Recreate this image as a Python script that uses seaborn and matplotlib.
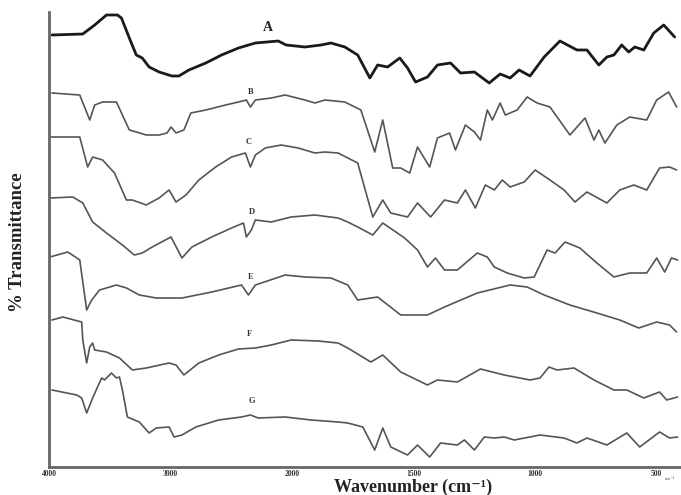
import numpy as np
import pandas as pd
import matplotlib
matplotlib.use("Agg")
import matplotlib.pyplot as plt
import matplotlib.ticker as mticker
import seaborn as sns

# ========================
# DATA (stacked % transmittance, arbitrary units)
# ========================
samples = ["A", "B", "C", "D", "E", "F", "G"]

wn_A = [3976, 3722, 3624, 3527, 3437, 3404, 3339, 3282, 3233, 3176, 3094, 2988, 2931, 2849, 2710,
        2580, 2441, 2302, 2114, 2049, 1947, 1881, 1840, 1783, 1730, 1680, 1648, 1607, 1557, 1525,
        1492, 1443, 1402, 1348, 1307, 1250, 1189, 1144, 1103, 1066, 1021, 963, 898, 828, 787, 738,
        705, 676, 644, 615, 590, 553, 512, 471, 426]
t_A = [435, 436, 445, 455, 455, 452, 432, 415, 412, 403, 398, 394, 394, 400, 407,
       415, 422, 427, 429, 425, 423, 425, 427, 423, 415, 392, 405, 403, 412, 402,
       388, 393, 405, 407, 397, 398, 387, 396, 392, 400, 394, 413, 429, 420, 420, 405,
       413, 415, 425, 418, 423, 420, 437, 445, 433]

wn_B = [3976, 3747, 3665, 3624, 3559, 3445, 3396, 3339, 3282, 3200, 3094, 3029, 2996, 2955, 2890,
        2833, 2710, 2547, 2441, 2376, 2343, 2302, 2171, 2057, 1947, 1906, 1865, 1783, 1717, 1660,
        1627, 1586, 1553, 1516, 1484, 1434, 1402, 1352, 1328, 1287, 1250, 1225, 1197, 1176, 1144,
        1123, 1074, 1033, 992, 939, 857, 795, 758, 738, 713, 664, 611, 541, 500, 451, 418]
t_B = [377, 375, 350, 365, 368, 368, 355, 340, 338, 335, 335, 337, 343, 337, 340,
       357, 360, 365, 368, 370, 363, 370, 372, 375, 370, 367, 370, 368, 360, 318,
       350, 302, 302, 297, 323, 303, 332, 337, 320, 345, 338, 330, 360, 350, 367,
       355, 360, 373, 367, 363, 335, 352, 330, 340, 327, 345, 353, 350, 370, 378, 363]

wn_C = [3992, 3747, 3682, 3641, 3559, 3461, 3363, 3314, 3200, 3094, 3012, 2955, 2873, 2767, 2629,
        2498, 2384, 2343, 2302, 2220, 2090, 1975, 1906, 1865, 1811, 1730, 1668, 1627, 1594, 1525,
        1484, 1430, 1373, 1320, 1287, 1246, 1205, 1168, 1135, 1103, 1045, 1000, 939, 881, 836,
        787, 705, 652, 594, 541, 488, 447, 418]
t_C = [333, 333, 303, 313, 310, 297, 270, 270, 265, 272, 280, 268, 275, 290, 303,
       313, 317, 303, 315, 322, 325, 322, 317, 318, 317, 307, 253, 270, 257, 253,
       267, 253, 270, 267, 280, 262, 285, 280, 290, 283, 288, 300, 290, 280, 268,
       278, 267, 280, 285, 280, 302, 303, 300]

wn_D = [3992, 3804, 3722, 3641, 3527, 3396, 3298, 3233, 3151, 2996, 2906, 2824, 2661, 2498, 2400,
        2376, 2335, 2302, 2171, 2008, 1906, 1811, 1771, 1730, 1668, 1627, 1537, 1484, 1443, 1410,
        1373, 1320, 1238, 1197, 1168, 1115, 1045, 1004, 951, 918, 877, 816, 746, 676, 611, 541,
        500, 467, 439, 414]
t_D = [272, 273, 267, 248, 237, 225, 215, 217, 223, 233, 212, 223, 233, 242, 247,
       233, 240, 250, 248, 253, 255, 252, 248, 243, 235, 247, 232, 220, 203, 212,
       200, 200, 217, 213, 203, 197, 192, 193, 220, 217, 228, 222, 207, 193, 197, 197,
       212, 198, 212, 210]

wn_E = [3992, 3845, 3747, 3690, 3649, 3584, 3445, 3363, 3257, 3118, 2906, 2661, 2416, 2359, 2302,
        2057, 1947, 1840, 1771, 1730, 1648, 1553, 1443, 1373, 1238, 1103, 1033, 963, 857, 746,
        652, 574, 500, 447, 418]
t_E = [213, 218, 210, 160, 170, 180, 185, 182, 175, 172, 172, 178, 185, 175, 185,
       195, 193, 192, 185, 170, 173, 155, 155, 163, 177, 185, 183, 175, 165, 157,
       150, 142, 148, 145, 138]

wn_F = [3976, 3886, 3731, 3722, 3690, 3665, 3641, 3624, 3527, 3420, 3314, 3200, 3012, 2955, 2890,
        2767, 2604, 2441, 2302, 2171, 2008, 1893, 1811, 1771, 1676, 1627, 1553, 1443, 1402, 1320,
        1225, 1127, 1021, 980, 943, 910, 840, 758, 676, 623, 553, 488, 459, 414]
t_F = [150, 153, 148, 130, 107, 123, 127, 120, 118, 112, 100, 102, 107, 105, 95,
       107, 115, 121, 122, 125, 130, 129, 127, 122, 108, 115, 98, 85, 90, 88,
       101, 95, 90, 92, 103, 100, 102, 90, 80, 80, 72, 78, 70, 73]

wn_G = [3976, 3771, 3731, 3690, 3641, 3567, 3543, 3486, 3445, 3420, 3396, 3355, 3257, 3176, 3118,
        3012, 2971, 2906, 2792, 2604, 2416, 2343, 2278, 2057, 1922, 1811, 1771, 1709, 1660, 1627,
        1594, 1525, 1484, 1434, 1389, 1320, 1291, 1250, 1209, 1168, 1127, 1086, 980, 881, 828,
        787, 705, 623, 570, 488, 447, 414]
t_G = [80, 75, 72, 57, 72, 92, 90, 97, 92, 93, 80, 53, 48, 37, 42,
       43, 33, 35, 43, 50, 53, 55, 52, 53, 50, 48, 47, 43, 20, 42,
       23, 15, 25, 13, 27, 25, 30, 20, 33, 32, 33, 30, 35, 32, 27,
       32, 25, 37, 23, 38, 32, 33]

major_ticks = [4000, 3000, 2000, 1500, 1000, 500]
major_labels = ["4000", "3000", "2000", "1500", "1000", "500"]

series = {"A": (wn_A, t_A), "B": (wn_B, t_B), "C": (wn_C, t_C), "D": (wn_D, t_D),
          "E": (wn_E, t_E), "F": (wn_F, t_F), "G": (wn_G, t_G)}

df = pd.concat([pd.DataFrame({"sample": k, "wavenumber": v[0], "T": v[1]})
                for k, v in series.items()], ignore_index=True)

# ========================
# PLOT
# ========================
sns.set_style("white")
plt.rcParams["font.family"] = ["Liberation Serif", "DejaVu Serif"]


# FTIR style axis: 4000-2000 compressed by half
def fwd(x):
    x = np.asarray(x, dtype=float)
    return np.where(x > 2000, 2000 + (x - 2000) / 2, x)


def inv(u):
    u = np.asarray(u, dtype=float)
    return np.where(u > 2000, 2000 + (u - 2000) * 2, u)


fig = plt.figure(figsize=(6.81, 4.95), dpi=100)
ax = fig.add_axes([49 / 681, 28 / 495, 632 / 681, 455 / 495])
ax.set_xscale("function", functions=(fwd, inv))

for s in samples:
    sub = df[df["sample"] == s]
    sns.lineplot(data=sub, x="wavenumber", y="T", ax=ax, sort=False, estimator=None,
                 color="#1a1a1a" if s == "A" else "#555555",
                 linewidth=2.0 if s == "A" else 1.2)

ax.set_xlim(4000, 400)
ax.set_ylim(3, 458)

ax.xaxis.set_major_locator(mticker.FixedLocator(major_ticks))
ax.xaxis.set_major_formatter(mticker.FixedFormatter(major_labels))
minor = list(range(3800, 2000, -200)) + list(range(1900, 400, -100))
ax.xaxis.set_minor_locator(mticker.FixedLocator(minor))
ax.tick_params(axis="x", which="both", direction="inout", length=3, width=1,
               color="#555555", labelsize=5.5, pad=1, labelcolor="#333333")
ax.tick_params(axis="y", left=False, labelleft=False)
for lab in ax.get_xticklabels():
    lab.set_fontweight("bold")

for side in ["top", "right"]:
    ax.spines[side].set_visible(False)
for side in ["left", "bottom"]:
    ax.spines[side].set_linewidth(2)
    ax.spines[side].set_color("#666666")

ax.set_xlabel("")
ax.set_ylabel("")

# trace letters
ax.text(2196, 442, "A", fontsize=10, fontweight="bold", ha="center", va="center", color="#222222")
for s, (x, y) in zip(samples[1:], [(2343, 378), (2359, 328), (2335, 258),
                                    (2343, 193), (2351, 136), (2327, 69)]):
    ax.text(x, y, s, fontsize=6, fontweight="bold", ha="center", va="center", color="#333333")

fig.text(413 / 681, 1 - 487 / 495, "Wavenumber (cm⁻¹)", fontsize=13, fontweight="bold",
         ha="center", va="center", color="#222222")
fig.text(18 / 681, 1 - 242 / 495, "% Transmittance", fontsize=13.5, fontweight="bold",
         rotation=90, ha="center", va="center", color="#222222")
fig.text(670 / 681, 1 - 479 / 495, "cm⁻¹", fontsize=3.5, ha="center", va="center", color="#444444")

fig.savefig("out.png", dpi=100)
